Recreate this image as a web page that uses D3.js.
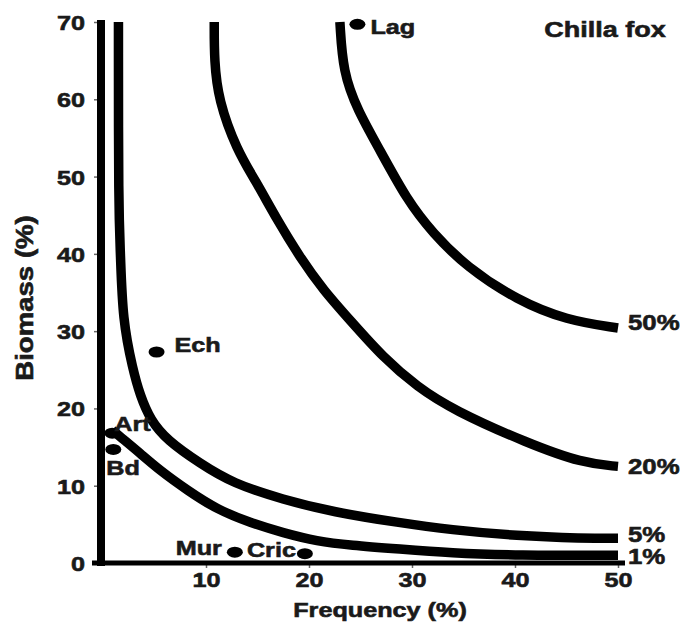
<!DOCTYPE html>
<html>
<head>
<meta charset="utf-8">
<script src="https://cdn.jsdelivr.net/npm/d3@7"></script>
<style>
  body { margin: 0; background: #fff; }
  text { font-family: "Liberation Sans", Arial, sans-serif; font-weight: bold; fill: #1a1a1a;
         stroke: #1a1a1a; stroke-width: 0.6px; }
</style>
</head>
<body>
<div id="chart"></div>
<script>
// isopleth curves, [frequency %, biomass %]
const curve1 = [[0.9, 17.2], [1.7, 16.3], [3.6, 14.2], [5.5, 12.0], [8.2, 9.4], [11.1, 6.9], [14.3, 5.2],
    [17.5, 3.9], [20.8, 2.8], [24.0, 2.3], [28.8, 1.8], [33.7, 1.3], [40.2, 1.0], [50, 1.0]];
const curve5 = [[1.5, 70], [1.5, 45.7], [1.7, 40.1], [1.9, 31.4], [2.9, 25.0], [3.6, 21.7], [4.6, 18.5],
    [6.2, 15.9], [9.4, 12.9], [12.6, 10.3], [17.5, 8.2], [22.3, 6.6], [28.8, 5.2], [33.7, 4.3],
    [40.2, 3.5], [46.6, 3.2], [50, 3.2]];
const curve20 = [[10.8, 70], [10.8, 65], [11.2, 59.9], [13.0, 53.4], [14.8, 49.5], [16.9, 44.4],
    [19.1, 39.6], [21.4, 35.3], [24.0, 31.4], [27.2, 26.6], [30.5, 22.8], [34.0, 19.8],
    [41.2, 15.5], [46.6, 12.9], [50, 12.5]];
const curve50 = [[23.0, 70], [23.3, 63.5], [24.7, 58.6], [26.9, 53.4], [29.5, 47.0], [32.0, 42.7],
    [35.3, 38.3], [40.2, 34.0], [45.0, 31.4], [50, 30.4]];

const curveLabels = ["1%", "5%", "20%", "50%"];
const curves = [curve1, curve5, curve20, curve50];

// prey items
const preyNames = ["Lag", "Ech", "Art", "Bd", "Mur", "Cric"];
const preyFreq = [24.7, 5.2, 0.9, 1.0, 12.8, 19.6];
const preyBiomass = [69.7, 27.3, 16.8, 14.7, 1.4, 1.2];

const xTicks = [10, 20, 30, 40, 50];
const yTicks = [0, 10, 20, 30, 40, 50, 60, 70];

const width = 684, height = 622;
const stretch = 1.2;   // lettering in the figure is set wide

const svg = d3.select("#chart").append("svg")
    .attr("width", width)
    .attr("height", height);

const x = d3.scaleLinear().domain([0, 50]).range([103, 618]);
const y = d3.scaleLinear().domain([0, 70]).range([563, 22]);

function label(str, px, py, size, anchor, rotate) {
    return svg.append("text")
        .attr("transform", `translate(${px},${py})` + (rotate ? " rotate(-90)" : "") + ` scale(${stretch},1)`)
        .attr("text-anchor", anchor || "start")
        .style("font-size", size + "px")
        .text(str);
}

// y axis
const yAxis = svg.append("g")
    .attr("transform", `translate(101,0)`)
    .call(d3.axisLeft(y).tickValues(yTicks).tickSize(7).tickPadding(9).tickSizeOuter(0));
yAxis.select(".domain").remove();
yAxis.selectAll(".tick line").attr("stroke", "#666").attr("stroke-width", 1.5);
yAxis.selectAll(".tick text")
    .attr("dy", "0.36em")
    .attr("transform", function () { return `translate(${-d3.select(this).attr("x") * (stretch - 1)},0) scale(${stretch},1)`; })
    .style("font-size", "21px");

// x axis
const xAxis = svg.append("g")
    .attr("transform", `translate(0,563)`)
    .call(d3.axisBottom(x).tickValues(xTicks).tickSize(5).tickPadding(4).tickSizeOuter(0));
xAxis.select(".domain").remove();
xAxis.selectAll(".tick line").attr("stroke", "#666").attr("stroke-width", 1.5);
xAxis.selectAll(".tick text")
    .attr("transform", `scale(${stretch},1)`)
    .style("font-size", "21px");

svg.append("line")
    .attr("x1", 101).attr("x2", 101)
    .attr("y1", y(70) - 2).attr("y2", y(0) + 3)
    .attr("stroke", "#000").attr("stroke-width", 8);
svg.append("line")
    .attr("x1", x(0) - 11).attr("x2", x(50) + 7)
    .attr("y1", y(0)).attr("y2", y(0))
    .attr("stroke", "#000").attr("stroke-width", 5);

// curves
const line = d3.line()
    .x(d => x(d[0]))
    .y(d => y(d[1]))
    .curve(d3.curveBasis);

svg.selectAll("path.iso")
    .data(curves)
    .join("path")
    .attr("class", "iso")
    .attr("d", line)
    .attr("fill", "none")
    .attr("stroke", "#000")
    .attr("stroke-width", 9.5)
    .attr("stroke-linejoin", "round");

// percent labels at the right end of each curve
const pctShift = { "1%": 9, "5%": 4, "20%": 8, "50%": 2 };
curves.forEach((c, i) => {
    const last = c[c.length - 1];
    label(curveLabels[i], x(last[0]) + 10, y(last[1]) + pctShift[curveLabels[i]], 21.5);
});

// prey points
svg.selectAll("ellipse.prey")
    .data(preyNames)
    .join("ellipse")
    .attr("class", "prey")
    .attr("cx", (d, i) => x(preyFreq[i]))
    .attr("cy", (d, i) => y(preyBiomass[i]))
    .attr("rx", 8)
    .attr("ry", 5.5)
    .attr("fill", "#000");

// label offsets relative to each point
const preyOffset = {
    Lag: [13, 10, "start"],
    Ech: [18, 0, "start"],
    Art: [2, -2, "start"],
    Bd: [-7, 26, "start"],
    Mur: [-13, 3, "end"],
    Cric: [-58, 3, "start"]
};
preyNames.forEach((n, i) => {
    const o = preyOffset[n];
    label(n, x(preyFreq[i]) + o[0], y(preyBiomass[i]) + o[1], 21, o[2]);
});

// titles
label("Frequency (%)", 380, 617, 21, "middle");
label("Biomass (%)", 33, 298, 23, "middle", true);
label("Chilla fox", 605, 37, 22.5, "middle");
</script>
</body>
</html>
